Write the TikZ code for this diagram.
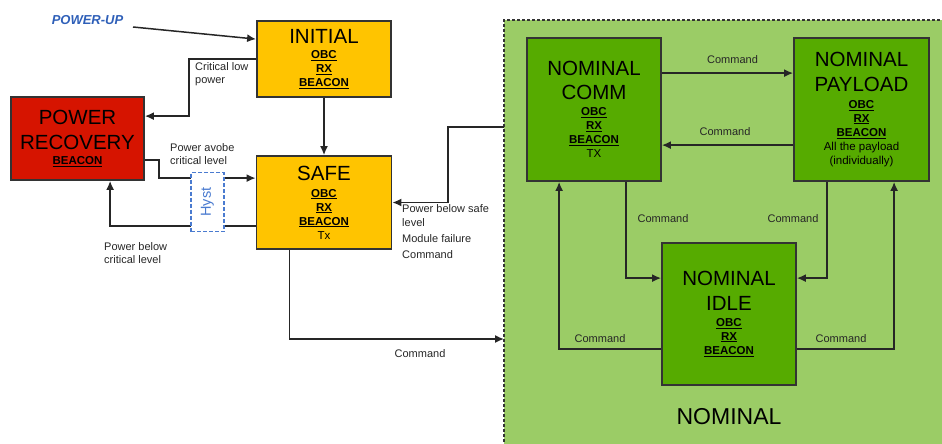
\documentclass[tikz,border=0pt]{standalone}
\usepackage{fontspec}
\setmainfont{Liberation Sans}
\usetikzlibrary{calc,arrows.meta}
\definecolor{amber}{HTML}{FFC400}
\definecolor{recred}{HTML}{D61400}
\definecolor{nomlight}{HTML}{9BCC66}
\definecolor{nomdark}{HTML}{56AB00}
\definecolor{hystblue}{HTML}{4A7BD0}
\definecolor{publue}{HTML}{2E5FB8}
\definecolor{lbl}{HTML}{262626}
\newcommand\ttl{\fontsize{20.5}{23.5}\selectfont}
\newcommand\sbi[1]{{\bfseries\underline{#1}}}
\tikzset{
  statebox/.style={draw=black!80,line width=1.8pt,align=center,inner sep=0pt,
    font=\fontsize{11.5}{14}\selectfont},
  arr/.style={draw=black!85,line width=1.5pt,-{Latex[length=9pt,width=8pt]}},
  lab/.style={text=lbl,font=\fontsize{11}{13.5}\selectfont,inner sep=0pt,align=left},
}
\begin{document}
\begin{tikzpicture}[x=1pt,y=-1pt]
\useasboundingbox (0,0) rectangle (942,444);
% nominal container
\fill[nomlight] (504,20) rectangle (945,447);
\draw[black!80,line width=1.2pt,dash pattern=on 3pt off 2pt] (504,447) -- (504,20) -- (945,20);
\coordinate (nomin) at (504,127);
\coordinate (nomcmd) at (504,339);
\node[font=\fontsize{23}{26}\selectfont] (nomlabel) at (729,417) {NOMINAL};

% state boxes
\node[statebox,fill=amber,minimum width=134pt,minimum height=76pt] (initial) at (324,59)
  {{\ttl INITIAL}\\[1pt] \sbi{OBC}\\ \sbi{RX}\\ \sbi{BEACON}};
\node[statebox,fill=amber,minimum width=135pt,minimum height=93pt] (safe) at (324,202.5)
  {{\ttl SAFE}\\[3pt] \sbi{OBC}\\ \sbi{RX}\\ \sbi{BEACON}\\ Tx};
\node[statebox,fill=recred,minimum width=133pt,minimum height=83pt] (recovery) at (77.5,138.5)
  {{\ttl POWER}\\[9pt] {\ttl RECOVERY}\\[1pt] \sbi{BEACON}};
\node[statebox,fill=nomdark,minimum width=134pt,minimum height=143pt] (comm) at (594,109.5)
  {{\ttl NOMINAL}\\[9pt] {\ttl COMM}\\[2pt] \sbi{OBC}\\ \sbi{RX}\\ \sbi{BEACON}\\ TX};
\node[statebox,fill=nomdark,minimum width=135pt,minimum height=143pt] (payload) at (861.5,109.5)
  {{\ttl NOMINAL}\\[9pt] {\ttl PAYLOAD}\\[3pt] \sbi{OBC}\\ \sbi{RX}\\ \sbi{BEACON}\\ All the payload\\ (individually)};
\node[statebox,fill=nomdark,minimum width=134pt,minimum height=142pt] (idle) at (729,314)
  {{\ttl NOMINAL}\\[9pt] {\ttl IDLE}\\[2pt] \sbi{OBC}\\ \sbi{RX}\\ \sbi{BEACON}};

% power-up
\node[text=publue,font=\fontsize{13}{15}\selectfont\bfseries\itshape,inner sep=0pt] (powerup) at (87.5,20) {POWER-UP};
\coordinate (pu) at (133,27);
\draw[arr] (pu) -- ($(initial.north west)+(0,19)$);

% initial -> safe
\draw[arr] (initial.south) -- (safe.north);

% critical low power
\draw[arr] (initial.west) -- ++(-67,0) |- ($(recovery.north east)+(0,20)$);
\node[lab,anchor=west] (l1) at (195,74) {Critical low\\power};

% power above critical
\draw[arr] ($(recovery.south east)+(0,-21)$) -- ++(14,0) |- ($(safe.north west)+(0,23)$);
\node[lab,anchor=west] (l2) at (170,154) {Power avobe\\critical level};

% power below critical
\draw[arr] ($(safe.south west)+(0,-24)$) -| ($(recovery.south west)+(100,0)$);
\node[lab,anchor=west] (l3) at (104,253) {Power below\\critical level};

% hyst
\node[draw=hystblue,fill=white,dash pattern=on 4pt off 2pt,line width=1.5pt,
  minimum width=33pt,minimum height=59pt,inner sep=0pt] (hyst) at (207.5,202) {};
\node[text=hystblue,rotate=90,font=\fontsize{14.5}{16}\selectfont,inner sep=0pt] (hysttxt) at (hyst.center) {Hyst};

% nominal -> safe
\draw[arr] (nomin) -- ++(-56,0) |- (safe.east);
\node[lab,anchor=north west] (l4) at (402,204.5) {Power below safe\\level\\[3pt]Module failure\\[2pt]Command};

% safe -> nominal
\draw[arr] ($(safe.south west)+(34,0)$) |- (nomcmd);
\node[lab] (l5) at (420,354) {Command};

% nominal internal transitions
\draw[arr] ($(comm.north east)+(0,36)$) -- ($(payload.north west)+(0,36)$);
\node[lab] (l6) at (732.5,60) {Command};
\draw[arr] ($(payload.north west)+(0,108)$) -- ($(comm.north east)+(0,108)$);
\node[lab] (l7) at (725,132) {Command};
\draw[arr] ($(comm.south west)+(100,0)$) |- ($(idle.north west)+(0,36)$);
\node[lab] (l8) at (663,219) {Command};
\draw[arr] ($(payload.south west)+(34,0)$) |- ($(idle.north east)+(0,36)$);
\node[lab] (l9) at (793,219) {Command};
\draw[arr] ($(idle.north west)+(0,107)$) -| ($(comm.south west)+(33,0)$);
\node[lab] (l10) at (600,339) {Command};
\draw[arr] ($(idle.north east)+(0,107)$) -| ($(payload.south west)+(101,0)$);
\node[lab] (l11) at (841,339) {Command};
\end{tikzpicture}
\end{document}
